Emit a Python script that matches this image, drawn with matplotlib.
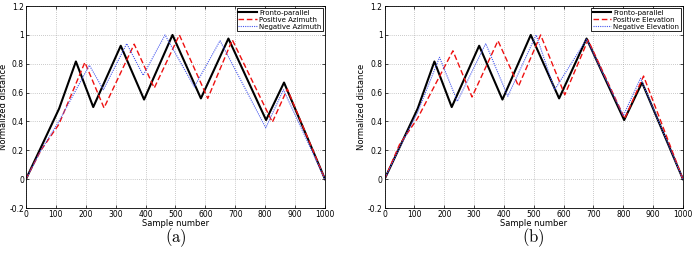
import matplotlib
matplotlib.use("Agg")
import matplotlib.pyplot as plt

plt.rcParams["mathtext.fontset"] = "cm"

# Panel (a)
a_fronto_x = [0, 50, 111, 167, 225, 317, 395, 490, 585, 677, 803, 863, 1000]
a_fronto_y = [0, 0.22, 0.49, 0.816, 0.50, 0.925, 0.552, 1.0, 0.56, 0.975, 0.41, 0.67, 0]
a_pos_x = [0, 50, 110, 197, 261, 362, 429, 513, 608, 690, 824, 874, 1000]
a_pos_y = [0, 0.2, 0.38, 0.81, 0.494, 0.936, 0.632, 1.0, 0.56, 0.966, 0.395, 0.625, 0]
a_neg_x = [0, 50, 110, 212, 259, 337, 392, 465, 563, 649, 802, 861, 1000]
a_neg_y = [0, 0.2, 0.4, 0.79, 0.62, 0.94, 0.72, 1.0, 0.64, 0.96, 0.356, 0.62, 0]

# Panel (b)
b_fronto_x = a_fronto_x
b_fronto_y = a_fronto_y
b_pos_x = [0, 50, 110, 229, 293, 380, 449, 523, 604, 682, 805, 868, 1000]
b_pos_y = [0, 0.24, 0.42, 0.89, 0.57, 0.96, 0.645, 1.0, 0.585, 0.965, 0.42, 0.715, 0]
b_neg_x = [0, 50, 110, 184, 244, 339, 413, 508, 570, 677, 800, 858, 1000]
b_neg_y = [0, 0.22, 0.46, 0.845, 0.54, 0.94, 0.575, 1.0, 0.62, 0.97, 0.44, 0.70, 0]

xticks = [0, 100, 200, 300, 400, 500, 600, 700, 800, 900, 1000]
yticks = [-0.2, 0, 0.2, 0.4, 0.6, 0.8, 1, 1.2]
ytick_labels = ["-0.2", "0", "0.2", "0.4", "0.6", "0.8", "1", "1.2"]

fig = plt.figure(figsize=(6.98, 2.54), dpi=100)
ax1 = fig.add_axes([0.0372, 0.181, 0.4284, 0.795])
ax2 = fig.add_axes([0.551, 0.181, 0.4274, 0.795])

panels = [
    (ax1, a_fronto_x, a_fronto_y, a_pos_x, a_pos_y, a_neg_x, a_neg_y,
     ["Fronto-parallel", "Positive Azimuth", "Negative Azimuth"], r"$\mathrm{(a)}$"),
    (ax2, b_fronto_x, b_fronto_y, b_pos_x, b_pos_y, b_neg_x, b_neg_y,
     ["Fronto-parallel", "Positive Elevation", "Negative Elevation"], r"$\mathrm{(b)}$"),
]

for ax, fx, fy, px, py, nx, ny, labels, cap in panels:
    ax.plot(fx, fy, color="black", lw=1.5, label=labels[0])
    ax.plot(px, py, color="#ee1111", lw=1.0, ls=(0, (4, 2)), label=labels[1])
    ax.plot(nx, ny, color="#4455ee", lw=0.8, ls=(0, (1, 1)), label=labels[2])
    ax.set_xlim(0, 1000)
    ax.set_ylim(-0.2, 1.2)
    ax.set_xticks(xticks)
    ax.set_yticks(yticks)
    ax.set_yticklabels(ytick_labels)
    ax.tick_params(labelsize=5.5, direction="in", length=2, width=0.5, pad=1.5,
                   top=True, right=True)
    ax.grid(True, ls=(0, (1, 2)), color="#999999", lw=0.5)
    for s in ax.spines.values():
        s.set_linewidth(0.6)
    ax.set_xlabel("Sample number", fontsize=6, labelpad=0)
    ax.set_ylabel("Normalized distance", fontsize=6, labelpad=1)
    leg = ax.legend(loc="upper right", fontsize=5, frameon=True, fancybox=False,
                    edgecolor="black", framealpha=1, borderpad=0.25,
                    handlelength=2.7, handletextpad=0.3, labelspacing=0.15,
                    borderaxespad=0.25)
    leg.get_frame().set_linewidth(0.6)
    pos = ax.get_position()
    fig.text((pos.x0 + pos.x1) / 2, 0.063, cap, ha="center", va="center",
             fontsize=12)

fig.savefig("out.png", dpi=100)
